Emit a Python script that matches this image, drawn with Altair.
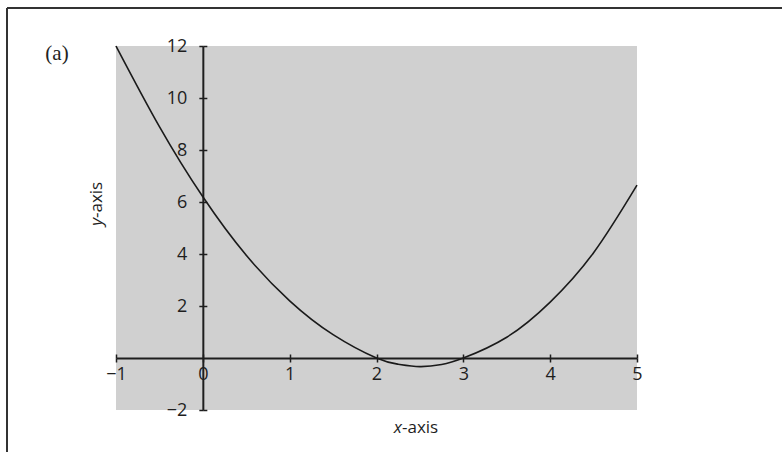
import altair as alt
import pandas as pd

# Curve samples (x, y)
curve_x = [-1.0, -0.5, 0.0, 0.5, 1.0, 1.5, 2.0, 2.25, 2.5, 2.75, 3.0, 3.5, 4.0, 4.5, 5.0]
curve_y = [12.0, 8.9, 6.2, 3.95, 2.2, 0.9, 0.0, -0.24, -0.33, -0.25, 0.0, 0.8, 2.15, 4.05, 6.65]

x_ticks = [-1, 0, 1, 2, 3, 4, 5]
y_ticks = [-2, 2, 4, 6, 8, 10, 12]
x_domain = [-1, 5]
y_domain = [-2, 12]

panel_label = ["(a)"]
x_title = ["x", "-axis"]
y_title = ["y", "-axis"]

W, H = 521, 364
PAD = {"left": 116, "top": 46, "right": 145, "bottom": 42}
FONT = "Open Sans"
INK = "#1e1e1e"
TXT = "#1e1e1e"
LABEL_SIZE = 18
TITLE_SIZE = 17

df = pd.DataFrame({"x": curve_x, "y": curve_y})

# Axes cross at the origin: shift them inward from the plot edges
y_axis_px = W * (0 - x_domain[0]) / (x_domain[1] - x_domain[0])
x_axis_px = H * (0 - y_domain[0]) / (y_domain[1] - y_domain[0])

xs = alt.Scale(domain=x_domain, nice=False, zero=False)
ys = alt.Scale(domain=y_domain, nice=False, zero=False)

curve = alt.Chart(df).mark_line(
    color="#1a1a1a", strokeWidth=1.6, interpolate="natural"
).encode(
    x=alt.X("x:Q", scale=xs, axis=alt.Axis(
        orient="bottom", offset=-x_axis_px, values=x_ticks, title=None,
        grid=False, domainColor=INK, domainWidth=2, tickColor=INK, tickWidth=1.5,
        tickSize=4, labelFont=FONT, labelFontSize=LABEL_SIZE, labelColor=TXT,
        labelPadding=3, format="d", labelFlush=False)),
    y=alt.Y("y:Q", scale=ys, axis=alt.Axis(
        orient="left", offset=-y_axis_px, values=y_ticks, title=None,
        grid=False, domainColor=INK, domainWidth=2, tickColor=INK, tickWidth=1.5,
        tickSize=4, labelFont=FONT, labelFontSize=LABEL_SIZE, labelColor=TXT,
        labelPadding=12, format="d", labelFlush=False)),
)

# Companion tick marks on the other side of each axis line
ticks_other = alt.Chart(df).mark_point(opacity=0).encode(
    x=alt.X("x:Q", scale=xs, axis=alt.Axis(
        orient="top", offset=-(H - x_axis_px), values=x_ticks, title=None,
        grid=False, domain=False, labels=False, tickColor=INK, tickWidth=1.5,
        tickSize=4)),
    y=alt.Y("y:Q", scale=ys, axis=alt.Axis(
        orient="right", offset=-(W - y_axis_px), values=y_ticks, title=None,
        grid=False, domain=False, labels=False, tickColor=INK, tickWidth=1.5,
        tickSize=4)),
)

one = pd.DataFrame({"k": [0]})

label_a = alt.Chart(one).mark_text(
    text=panel_label[0], font="Liberation Serif", fontSize=21, color="#222",
    align="center", baseline="middle"
).encode(x=alt.value(57 - PAD["left"]), y=alt.value(54 - PAD["top"]))

xt_1 = alt.Chart(one).mark_text(
    text=x_title[0], font=FONT, fontSize=TITLE_SIZE, fontStyle="italic", color=TXT,
    align="right", baseline="alphabetic"
).encode(x=alt.value(402 - PAD["left"]), y=alt.value(433 - PAD["top"]))
xt_2 = alt.Chart(one).mark_text(
    text=x_title[1], font=FONT, fontSize=TITLE_SIZE, color=TXT,
    align="left", baseline="alphabetic"
).encode(x=alt.value(402 - PAD["left"]), y=alt.value(433 - PAD["top"]))

yt_1 = alt.Chart(one).mark_text(
    text=y_title[0], font=FONT, fontSize=TITLE_SIZE, fontStyle="italic", color=TXT,
    align="right", baseline="alphabetic", angle=270
).encode(x=alt.value(102 - PAD["left"]), y=alt.value(218 - PAD["top"]))
yt_2 = alt.Chart(one).mark_text(
    text=y_title[1], font=FONT, fontSize=TITLE_SIZE, color=TXT,
    align="left", baseline="alphabetic", angle=270
).encode(x=alt.value(102 - PAD["left"]), y=alt.value(218 - PAD["top"]))

# Figure frame (top and left edges)
frame_left = alt.Chart(one).mark_rule(color="#333", strokeWidth=2).encode(
    x=alt.value(7 - PAD["left"]), y=alt.value(8 - PAD["top"]), y2=alt.value(452 - PAD["top"]))
frame_top = alt.Chart(one).mark_rule(color="#333", strokeWidth=2).encode(
    x=alt.value(7 - PAD["left"]), x2=alt.value(782 - PAD["left"]), y=alt.value(8 - PAD["top"]))

chart = alt.layer(
    curve, ticks_other, label_a, xt_1, xt_2, yt_1, yt_2, frame_left, frame_top
).resolve_axis(
    x="independent", y="independent"
).properties(
    width=W, height=H, padding=PAD,
    autosize=alt.AutoSizeParams(type="none"),
    background="white",
).configure_view(
    fill="#d0d0d0", stroke=None, clip=False
).configure_axis(
    labelFont=FONT, labelFontSize=LABEL_SIZE, labelColor=TXT
)

chart.save("out.html", embed_options={"renderer": "svg", "actions": False})
